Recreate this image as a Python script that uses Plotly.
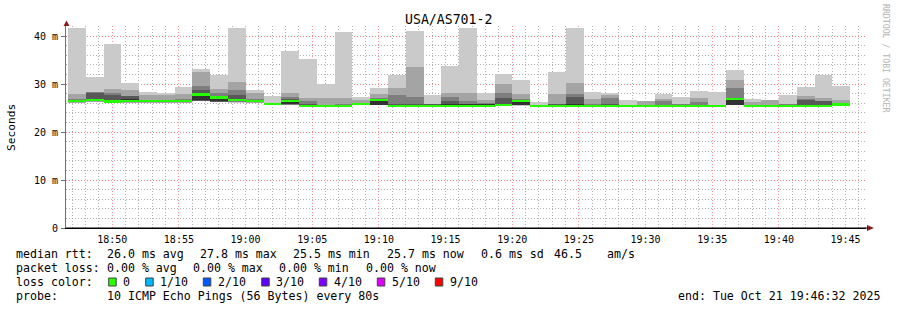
import plotly.graph_objects as go
import pandas as pd

# ---------------- data ----------------
title_text = "USA/AS701-2"
start_time = "2025-10-21 18:46:41"
step_seconds = 80
range_start = "2025-10-21 18:46:32"
range_end = "2025-10-21 19:46:32"

# sorted ping values (ms) per 80 s step, rank 1 (fastest) .. rank 10 (slowest)
ping1 = [26.0, 26.2, 26.0, 26.0, 26.0, 26.0, 26.0, 26.4, 26.2, 26.0, 26.0, 25.6, 25.6, 25.3, 25.3, 25.3, 25.6, 25.6, 25.35, 25.35, 25.35, 25.35,
         25.35, 25.35, 25.35, 25.5, 25.3, 25.35, 25.35, 25.3, 25.3, 25.3, 25.3, 25.3, 25.3, 25.3, 25.3, 25.6, 25.3, 25.3, 25.3, 25.3, 25.3, 25.6]
ping2 = [26.1, 26.3, 26.05, 26.1, 26.1, 26.1, 26.1, 26.45, 26.25, 26.2, 26.1, 25.65, 25.65, 25.33, 25.33, 25.35, 25.65, 25.62, 25.37, 25.37, 25.37, 25.37,
         25.37, 25.37, 25.37, 25.55, 25.33, 25.37, 25.37, 25.33, 25.33, 25.33, 25.33, 25.33, 25.33, 25.33, 25.33, 25.62, 25.33, 25.33, 25.33, 25.33, 25.33, 25.62]
ping3 = [26.2, 26.4, 26.1, 26.15, 26.2, 26.2, 26.2, 26.5, 26.3, 26.3, 26.2, 25.7, 25.7, 25.35, 25.35, 25.38, 25.68, 25.65, 25.4, 25.4, 25.4, 25.4,
         25.4, 25.4, 25.4, 25.6, 25.35, 25.4, 25.4, 25.35, 25.35, 25.35, 25.35, 25.35, 25.35, 25.35, 25.35, 25.65, 25.35, 25.35, 25.35, 25.35, 25.35, 25.65]
ping4 = [26.3, 26.5, 26.15, 26.2, 26.3, 26.3, 26.3, 26.55, 26.35, 26.4, 26.3, 25.7, 25.75, 25.38, 25.38, 25.4, 25.7, 25.68, 25.42, 25.42, 25.42, 25.42,
         25.42, 25.42, 25.42, 25.65, 25.38, 25.42, 25.42, 25.38, 25.38, 25.38, 25.38, 25.38, 25.38, 25.38, 25.38, 25.68, 25.38, 25.38, 25.38, 25.38, 25.38, 25.68]
ping5 = [26.35, 26.6, 26.2, 26.3, 26.35, 26.35, 26.4, 26.6, 26.4, 26.5, 26.4, 25.75, 25.8, 25.4, 25.4, 25.45, 25.75, 25.7, 25.45, 25.45, 25.45, 25.45,
         25.45, 25.45, 25.45, 25.7, 25.4, 25.45, 25.45, 25.4, 25.4, 25.4, 25.4, 25.4, 25.4, 25.4, 25.4, 25.7, 25.4, 25.4, 25.4, 25.4, 25.4, 25.7]
ping6 = [26.55, 26.9, 26.6, 26.8, 26.5, 26.5, 26.6, 28.0, 27.3, 26.9, 26.6, 25.85, 26.6, 25.6, 25.55, 25.6, 25.85, 26.8, 25.6, 25.6, 25.6, 25.9,
         25.7, 25.65, 25.8, 26.6, 25.5, 25.6, 25.9, 25.55, 25.6, 25.5, 25.5, 25.6, 25.55, 25.6, 25.5, 26.9, 25.5, 25.5, 25.55, 25.6, 25.7, 25.8]
ping7 = [26.6, 28.2, 27.7, 27.5, 26.6, 26.6, 26.7, 28.7, 27.5, 27.8, 26.7, 25.9, 26.8, 25.8, 25.6, 25.7, 25.9, 26.9, 25.9, 25.9, 25.7, 26.5,
         25.9, 25.8, 27.1, 26.7, 25.55, 25.7, 27.3, 25.7, 25.8, 25.55, 25.55, 25.7, 25.65, 25.7, 25.55, 27.1, 25.55, 25.55, 25.65, 26.7, 26.4, 25.85]
ping8 = [26.8, 28.3, 28.2, 27.6, 26.7, 26.7, 26.9, 29.6, 28.1, 28.7, 26.8, 25.95, 27.3, 26.5, 25.7, 25.9, 25.95, 27.0, 27.8, 27.3, 25.75, 27.3,
         26.5, 26.0, 28.1, 26.8, 25.6, 25.9, 27.9, 25.9, 27.1, 25.6, 25.6, 26.5, 25.75, 26.2, 25.6, 29.2, 25.6, 25.6, 25.75, 26.9, 26.5, 25.9]
ping9 = [28.0, 28.4, 29.0, 28.75, 27.8, 27.8, 27.9, 32.5, 29.0, 30.4, 28.1, 26.0, 28.1, 27.1, 27.1, 27.1, 26.7, 27.9, 29.2, 33.5, 25.9, 28.1,
         28.1, 26.7, 29.9, 27.9, 25.7, 27.9, 30.2, 26.8, 27.8, 25.65, 26.5, 26.9, 25.9, 27.1, 25.65, 30.8, 26.25, 26.65, 25.9, 27.5, 27.1, 26.6]
ping10 = [41.7, 31.5, 38.3, 30.2, 28.3, 28.2, 29.4, 33.1, 31.9, 41.7, 28.7, 27.5, 36.9, 35.2, 30.0, 40.8, 27.3, 29.2, 31.9, 41.0, 27.8, 33.8,
          41.7, 28.1, 32.1, 30.8, 26.2, 32.5, 41.7, 28.3, 28.1, 26.7, 26.55, 27.9, 27.3, 28.5, 28.3, 32.9, 26.9, 26.7, 27.8, 29.4, 31.9, 29.6]
median_rtt = [26.4, 26.7, 26.35, 26.4, 26.4, 26.4, 26.5, 27.8, 27.2, 26.7, 26.5, 25.8, 26.5, 25.45, 25.45, 25.5, 25.8, 26.7, 25.5, 25.5, 25.5, 25.5,
              25.5, 25.5, 25.55, 26.5, 25.45, 25.5, 25.5, 25.45, 25.45, 25.45, 25.45, 25.45, 25.45, 25.45, 25.45, 26.8, 25.45, 25.45, 25.45, 25.45, 25.45, 25.75]

y_tick_values = [0, 10, 20, 30, 40]
y_tick_labels = ["0", "10 m", "20 m", "30 m", "40 m"]

stats_line1 = [("median rtt:", 16), ("26.0 ms avg", 107.3), ("27.8 ms max", 200), ("25.5 ms min", 293.3),
               ("25.7 ms now", 387.3), ("0.6 ms sd", 481.3), ("46.5", 553.7), ("am/s", 607)]
stats_line2 = [("packet loss:", 16), ("0.00 % avg", 107.3), ("0.00 % max", 193.3), ("0.00 % min", 279.3),
               ("0.00 % now", 365.7)]
loss_labels = ["0", "1/10", "2/10", "3/10", "4/10", "5/10", "9/10"]
loss_colors = ["#26ff00", "#00b8ff", "#0059ff", "#5e00ff", "#7e00ff", "#dd00ff", "#ff0000"]
loss_box_x = [108.7, 145.7, 203.3, 261.7, 319.3, 377.3, 435.3]
loss_label_x = [123, 160.3, 218.3, 276.3, 334, 392, 450]
probe_text = "10 ICMP Echo Pings (56 Bytes) every 80s"
end_text = "end: Tue Oct 21 19:46:32 2025"

# ---------------- geometry helpers ----------------
W, H = 897, 310
L, R, T, B = 66, 31, 26, 82
PW, PH = W - L - R, H - T - B


def px(x):
    return (x - L) / PW


def py(y):
    return (H - B - y) / PH


MONO = "DejaVu Sans Mono"

pings = [ping1, ping2, ping3, ping4, ping5, ping6, ping7, ping8, ping9, ping10]
n = len(median_rtt)
times = pd.date_range(start_time, periods=n, freq=f"{step_seconds}s") + pd.Timedelta(seconds=step_seconds / 2)
width_ms = step_seconds * 1000

fig = go.Figure()
half = 5
for ibot in range(1, half + 1):
    lo = pings[ibot - 1]
    hi = pings[10 - ibot]
    level = int(190 / half * (half - ibot)) + 50
    col = "#" + ("%02x" % level) * 3
    fig.add_trace(go.Bar(
        x=times, y=[h - l for h, l in zip(hi, lo)], base=lo, width=width_ms,
        marker=dict(color=col, line=dict(width=0)), hoverinfo="skip", showlegend=False))

med_h = 0.46
fig.add_trace(go.Bar(
    x=times, y=[med_h] * n, base=[m - med_h / 2 for m in median_rtt], width=width_ms,
    marker=dict(color=loss_colors[0], line=dict(width=0)), showlegend=False,
    hovertemplate="%{x|%H:%M:%S}<br>median %{customdata} ms<extra></extra>", customdata=median_rtt))

fig.update_layout(
    width=W, height=H, margin=dict(l=L, r=R, t=T, b=B),
    paper_bgcolor="white", plot_bgcolor="white", barmode="overlay", bargap=0,
    font=dict(family=MONO, size=10, color="black"),
)
major_grid = "rgba(255,110,110,0.75)"
minor_grid = "rgba(150,150,150,0.75)"
fig.update_xaxes(
    type="date", range=[range_start, range_end],
    tickformat="%H:%M", dtick=300000, tick0="2025-10-21 18:50:00",
    showgrid=True, gridcolor=major_grid, griddash="1px,2px", gridwidth=1,
    minor=dict(dtick=60000, showgrid=True, gridcolor=minor_grid, griddash="1px,2px", gridwidth=1),
    showline=True, linecolor="black", linewidth=1, zeroline=False,
    ticks="", ticklabelstandoff=2, tickfont=dict(family=MONO, size=10, color="black"),
)
fig.update_yaxes(
    range=[0, (H - B - T) / 4.8], tickvals=y_tick_values, ticktext=y_tick_labels,
    showgrid=True, gridcolor=major_grid, griddash="1px,2px", gridwidth=1,
    minor=dict(dtick=2, showgrid=True, gridcolor=minor_grid, griddash="1px,2px", gridwidth=1),
    showline=True, linecolor="#707070", linewidth=1, zeroline=False,
    ticks="outside", ticklen=4, tickcolor="#707070", ticklabelstandoff=1,
    tickfont=dict(family=MONO, size=10, color="black"),
)

ann = []


def text(s, x, y, size=11.6, color="black", xanchor="left", angle=0):
    ann.append(dict(text=s, x=px(x), y=py(y), xref="paper", yref="paper", showarrow=False,
                    xanchor=xanchor, yanchor="middle", textangle=angle, borderpad=0, borderwidth=0,
                    font=dict(family=MONO, size=size, color=color)))


text(title_text, 448, 20, size=13.2, xanchor="center")
text("Seconds", 11, 127, size=11.2, xanchor="center", angle=-90)
text("RRDTOOL / TOBI OETIKER", 886, 59, size=8.2, color="#b4b4b4", xanchor="center", angle=90)
for s, x in stats_line1:
    text(s, x, 254.3)
for s, x in stats_line2:
    text(s, x, 268.3)
text("loss color:", 16, 282.3)
for s, x in zip(loss_labels, loss_label_x):
    text(s, x, 282.3)
text("probe:", 16, 296)
text(probe_text, 107.3, 296)
text(end_text, 678, 296)

shapes = []
for c, x in zip(loss_colors, loss_box_x):
    shapes.append(dict(type="rect", xref="paper", yref="paper", x0=px(x), x1=px(x + 7.5),
                       y0=py(278), y1=py(286), fillcolor=c, line=dict(color="#404040", width=1)))
# axis arrows
arrow_col = "#8b1a1a"
shapes.append(dict(type="path", xref="paper", yref="paper",
                   path=f"M {px(63.5)} {py(26)} L {px(66.5)} {py(20.5)} L {px(69.5)} {py(26)} Z",
                   fillcolor=arrow_col, line=dict(width=0)))
shapes.append(dict(type="path", xref="paper", yref="paper",
                   path=f"M {px(867)} {py(225)} L {px(874)} {py(228)} L {px(867)} {py(231)} Z",
                   fillcolor=arrow_col, line=dict(width=0)))
shapes.append(dict(type="line", xref="paper", yref="paper", x0=px(66), x1=px(868), y0=0, y1=0,
                   line=dict(color="black", width=1)))

fig.update_layout(annotations=ann, shapes=shapes)
fig.write_html("out.html")
